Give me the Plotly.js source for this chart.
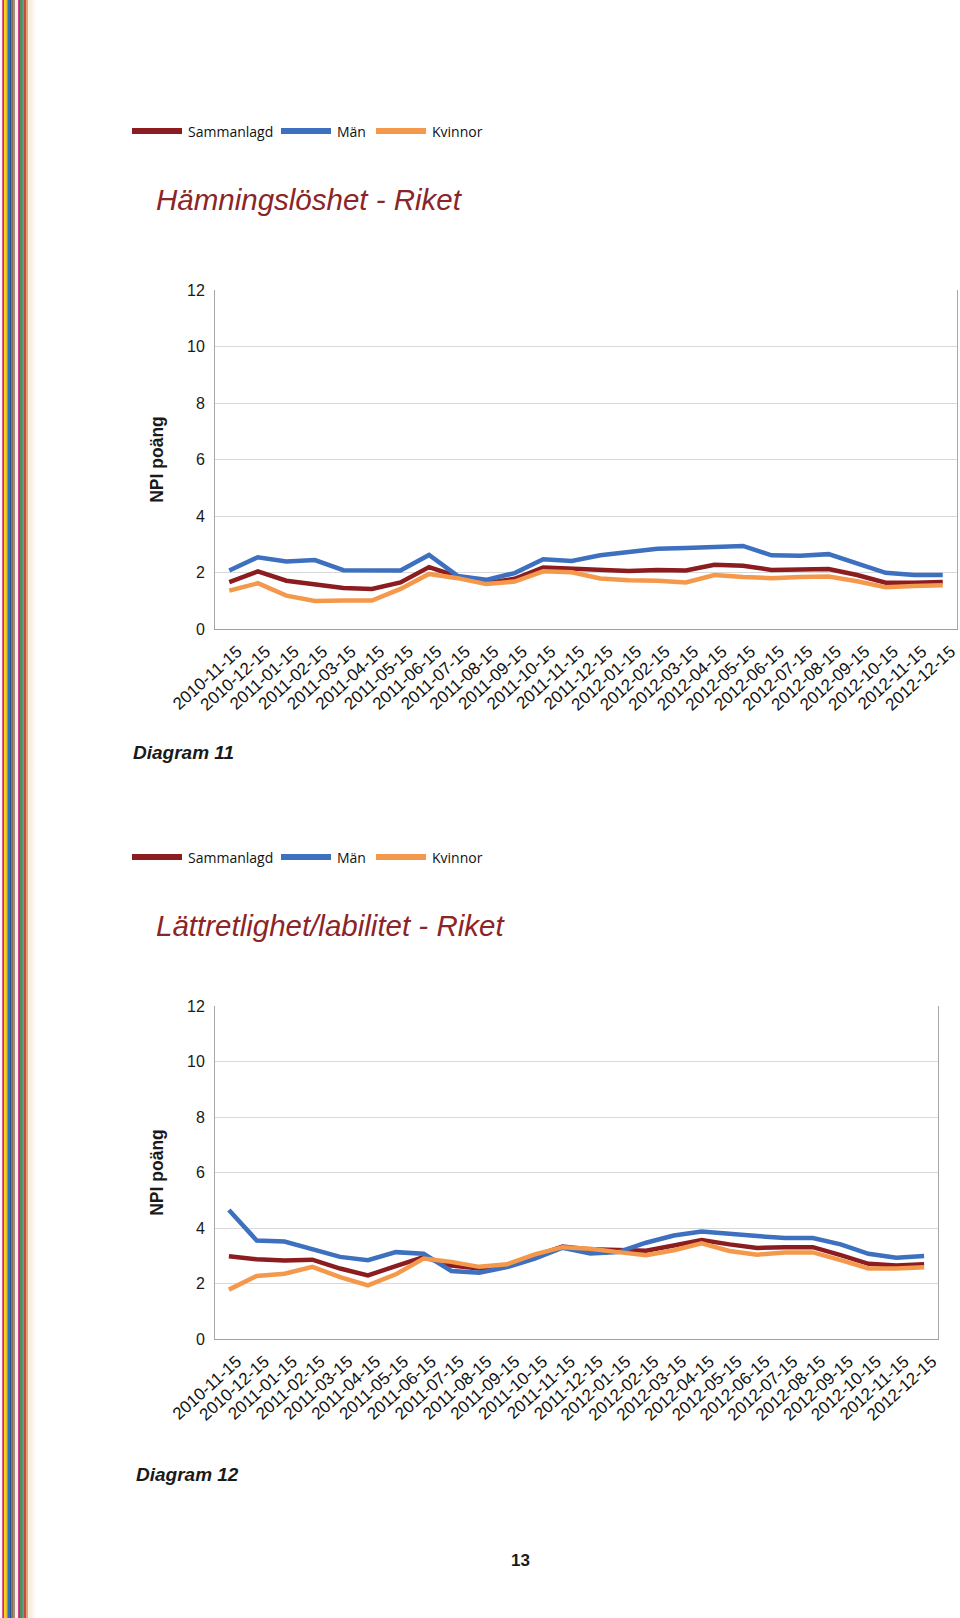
<!DOCTYPE html>
<html>
<head>
<meta charset="utf-8">
<script src="https://cdn.plot.ly/plotly-3.0.1.min.js"></script>
<style>
  body { margin: 0; background: #fff; }
  #stripes {
    position: absolute; left: 0; top: 0; width: 36px; height: 1618px;
    background: linear-gradient(to right,
      #fbf8f4 0px, #fbf8f4 2px, #e0589c 2px, #e0589c 3px, #c8324e 3px, #c8324e 4px,
      #f3d31f 4px, #f3d31f 6px, #eab51e 6px, #eab51e 7px, #e27d2c 7px, #e27d2c 8px,
      #2079c0 8px, #2079c0 10px, #2c4d90 10px, #2c4d90 11px, #2f9ca2 11px, #2f9ca2 12px,
      #8d6b4c 12px, #8d6b4c 13px, #9a9185 13px, #9a9185 15px, #f6f1ea 15px, #f6f1ea 18px,
      #d83f8d 18px, #d83f8d 19px, #7b5b3b 19px, #7b5b3b 20px, #5b8b4c 20px, #5b8b4c 22px,
      #4b9b8b 22px, #4b9b8b 23px, #8c8c8c 23px, #8c8c8c 24px, #c44c3c 24px, #c44c3c 26px,
      #e9a272 26px, #e9a272 28px, #f8eee2 28px, #f8eee2 31px, #fff 36px);
  }
  #grafico { position: absolute; left: 0; top: 0; width: 960px; height: 1618px; }
</style>
</head>
<body>
<div id="stripes"></div>
<div id="grafico"></div>
<script>
// Månader (kategoriaxel)
const dates = [
    '2010-11-15', '2010-12-15',
    '2011-01-15', '2011-02-15', '2011-03-15', '2011-04-15', '2011-05-15', '2011-06-15',
    '2011-07-15', '2011-08-15', '2011-09-15', '2011-10-15', '2011-11-15', '2011-12-15',
    '2012-01-15', '2012-02-15', '2012-03-15', '2012-04-15', '2012-05-15', '2012-06-15',
    '2012-07-15', '2012-08-15', '2012-09-15', '2012-10-15', '2012-11-15', '2012-12-15'
];
const seriesNames = ['Sammanlagd', 'Män', 'Kvinnor'];
const yTicks = [0, 2, 4, 6, 8, 10, 12];

// Diagram 11 - Hämningslöshet
const hamSammanlagd = [1.66, 2.04, 1.71, 1.58, 1.45, 1.42, 1.65, 2.19, 1.86, 1.62, 1.78, 2.18, 2.13,
    2.07, 2.05, 2.09, 2.07, 2.27, 2.24, 2.09, 2.09, 2.12, 1.91, 1.64, 1.64, 1.66];
const hamMan = [2.07, 2.54, 2.39, 2.44, 2.08, 2.07, 2.07, 2.62, 1.88, 1.74, 1.98, 2.47, 2.41,
    2.61, 2.71, 2.84, 2.87, 2.91, 2.94, 2.61, 2.59, 2.65, 2.31, 1.99, 1.91, 1.91];
const hamKvinnor = [1.36, 1.62, 1.18, 0.99, 1.01, 1.01, 1.42, 1.95, 1.80, 1.59, 1.68, 2.04, 2.01,
    1.79, 1.73, 1.71, 1.65, 1.91, 1.84, 1.80, 1.84, 1.86, 1.69, 1.48, 1.52, 1.55];

// Diagram 12 - Lättretlighet/labilitet
const labSammanlagd = [2.98, 2.87, 2.83, 2.86, 2.54, 2.29, 2.63, 2.95, 2.65, 2.54, 2.65, 2.99, 3.33,
    3.23, 3.20, 3.18, 3.37, 3.57, 3.41, 3.28, 3.31, 3.31, 3.02, 2.71, 2.65, 2.69];
const labMan = [4.65, 3.55, 3.51, 3.23, 2.96, 2.84, 3.13, 3.07, 2.45, 2.39, 2.59, 2.90, 3.29,
    3.08, 3.13, 3.47, 3.73, 3.87, 3.81, 3.71, 3.64, 3.64, 3.41, 3.07, 2.93, 2.99];
const labKvinnor = [1.78, 2.27, 2.35, 2.60, 2.23, 1.93, 2.33, 2.90, 2.78, 2.60, 2.69, 3.05, 3.31,
    3.25, 3.13, 3.02, 3.20, 3.45, 3.17, 3.04, 3.12, 3.12, 2.84, 2.54, 2.54, 2.59];

const colors = ['#8b1c1f', '#3d70be', '#f4994c'];

// pixel -> paper
const W = 960, H = 1618;
const px = v => v / W;
const py = v => 1 - v / H;

function lines(values, xa, ya) {
    return values.map((y, i) => ({
        x: dates,
        y: y,
        name: seriesNames[i],
        type: 'scatter',
        mode: 'lines',
        xaxis: xa,
        yaxis: ya,
        showlegend: false,
        line: { color: colors[i], width: 4.5 }
    }));
}

const data = [
    ...lines([hamSammanlagd, hamMan, hamKvinnor], 'x', 'y'),
    ...lines([labSammanlagd, labMan, labKvinnor], 'x2', 'y2')
];

const xBase = {
    type: 'category',
    range: [-0.5, dates.length - 0.5],
    showgrid: false,
    showline: true,
    linecolor: '#a0a0a0',
    linewidth: 1,
    ticks: '',
    tickangle: -42,
    ticklabelshift: 8,
    ticklabelstandoff: 5,
    tickfont: { family: 'Liberation Sans, Arial', size: 17, color: '#111' },
    fixedrange: true
};
const yBase = {
    range: [0, 12],
    tickvals: yTicks,
    showgrid: true,
    gridcolor: '#d9d9d9',
    zeroline: false,
    showline: true,
    mirror: true,
    linecolor: '#a8a8a8',
    ticks: '',
    ticklabelstandoff: 6,
    tickfont: { family: 'Liberation Sans, Arial', size: 16, color: '#1a1a1a' },
    title: {
        text: 'NPI poäng',
        standoff: 18,
        font: { family: 'Liberation Sans, Arial', size: 17.5, color: '#1a1a1a', weight: 'bold' }
    }
};

// egen legend: linje + text
function legend(yc) {
    const starts = [132, 281, 376];
    const shapes = starts.map((x0, i) => ({
        type: 'line', xref: 'paper', yref: 'paper',
        x0: px(x0), x1: px(x0 + 50), y0: py(yc), y1: py(yc),
        line: { color: colors[i], width: 6 }
    }));
    const notes = starts.map((x0, i) => ({
        xref: 'paper', yref: 'paper', x: px(x0 + 54), y: py(yc),
        xanchor: 'left', yanchor: 'middle', showarrow: false,
        text: seriesNames[i],
        font: { family: 'Open Sans', size: 14, color: '#111' }
    }));
    return { shapes, notes };
}
const leg1 = legend(131);
const leg2 = legend(857);

function label(text, x, y, font) {
    return { xref: 'paper', yref: 'paper', x: px(x), y: py(y), xanchor: 'left', yanchor: 'middle',
        showarrow: false, text: text, font: font };
}
const titleFont = { family: 'Liberation Sans, Arial', size: 29.5, color: '#8b2527', style: 'italic' };
const diagFont = { family: 'Liberation Sans, Arial', size: 19, color: '#1a1a1a', weight: 'bold', style: 'italic' };

const layout = {
    width: W,
    height: H,
    margin: { l: 0, r: 0, t: 0, b: 0 },
    paper_bgcolor: 'rgba(0,0,0,0)',
    plot_bgcolor: '#fff',
    xaxis: { ...xBase, domain: [px(215), px(957)], anchor: 'y' },
    yaxis: { ...yBase, domain: [py(629), py(290)], anchor: 'x' },
    xaxis2: { ...xBase, domain: [px(215), px(938)], anchor: 'y2' },
    yaxis2: { ...yBase, domain: [py(1339), py(1006)], anchor: 'x2' },
    shapes: [...leg1.shapes, ...leg2.shapes],
    annotations: [
        ...leg1.notes, ...leg2.notes,
        label('Hämningslöshet - Riket', 154, 199, titleFont),
        label('Lättretlighet/labilitet - Riket', 154, 925, titleFont),
        label('Diagram 11', 131, 752, diagFont),
        label('Diagram 12', 134, 1474, diagFont),
        { xref: 'paper', yref: 'paper', x: px(520), y: py(1560), xanchor: 'center', yanchor: 'middle',
          showarrow: false, text: '13',
          font: { family: 'Liberation Sans, Arial', size: 17, color: '#1a1a1a', weight: 'bold' } }
    ]
};

Plotly.newPlot('grafico', data, layout, { staticPlot: true });
</script>
</body>
</html>
